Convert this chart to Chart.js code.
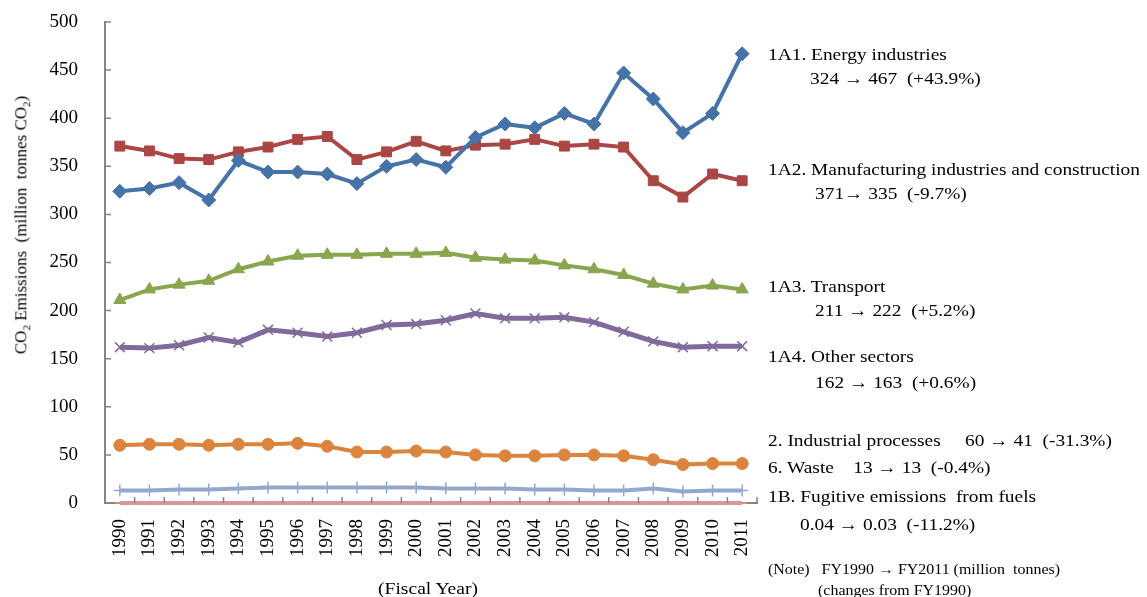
<!DOCTYPE html>
<html lang="en">
<head>
  <meta charset="UTF-8">
  <title>CO2 Emissions by Sector</title>
  <script src="https://cdn.jsdelivr.net/npm/chart.js"></script>
  <style>
    body {
      margin: 0;
      padding: 0;
      background: #fff;
      font-family: 'Liberation Serif', 'DejaVu Serif', serif;
      color: #000;
    }

    .wrap {
      position: relative;
      width: 1147px;
      height: 597px;
      overflow: hidden;
    }

    .note {
      position: absolute;
      white-space: pre;
      font-size: 17px;
      line-height: 1;
      transform: scaleX(1.14);
      transform-origin: left center;
    }

    .small {
      font-size: 14px;
    }

    .ytitle {
      position: absolute;
      left: 22px;
      top: 225px;
      transform: translate(-50%, -50%) rotate(-90deg);
      white-space: pre;
      font-size: 17px;
    }

    .xtitle {
      position: absolute;
      left: 428px;
      top: 589px;
      transform: translate(-50%, -50%) scaleX(1.15);
      font-size: 17px;
    }
  </style>
</head>
<body>
  <div class="wrap">
    <canvas id="chart" width="1147" height="597"></canvas>

    <div class="ytitle">CO<sub style="font-size:11px">2</sub> Emissions  (million  tonnes CO<sub style="font-size:11px">2</sub>)</div>
    <div class="xtitle">(Fiscal Year)</div>

    <div class="note" style="left:768px; top:46px;">1A1. Energy industries</div>
    <div class="note" style="left:810px; top:70px;">324 → 467  (+43.9%)</div>
    <div class="note" style="left:768px; top:161px;">1A2. Manufacturing industries and construction</div>
    <div class="note" style="left:815px; top:185px;">371→ 335  (-9.7%)</div>
    <div class="note" style="left:768px; top:278px;">1A3. Transport</div>
    <div class="note" style="left:815px; top:302px;">211 → 222  (+5.2%)</div>
    <div class="note" style="left:768px; top:348px;">1A4. Other sectors</div>
    <div class="note" style="left:815px; top:374px;">162 → 163  (+0.6%)</div>
    <div class="note" style="left:768px; top:432px;">2. Industrial processes     60 → 41  (-31.3%)</div>
    <div class="note" style="left:768px; top:459px;">6. Waste    13 → 13  (-0.4%)</div>
    <div class="note" style="left:768px; top:488px;">1B. Fugitive emissions  from fuels</div>
    <div class="note" style="left:800px; top:516px;">0.04 → 0.03  (-11.2%)</div>
    <div class="note small" style="left:768px; top:563px;">(Note)   FY1990 → FY2011 (million  tonnes)</div>
    <div class="note small" style="left:818px; top:584px;">(changes from FY1990)</div>
  </div>

  <script>
    // fiscal years
    const years = ['1990', '1991', '1992', '1993', '1994', '1995', '1996', '1997', '1998', '1999', '2000',
                   '2001', '2002', '2003', '2004', '2005', '2006', '2007', '2008', '2009', '2010', '2011'];

    // million tonnes CO2
    const energy = [324, 327, 333, 315, 356, 344, 344, 342, 332, 350, 357, 349, 380, 394, 390, 405, 394, 447, 420, 385, 405, 467];
    const manufacturing = [371, 366, 358, 357, 365, 370, 378, 381, 357, 365, 376, 366, 372, 373, 378, 371, 373, 370, 335, 318, 342, 335];
    const transport = [211, 222, 227, 231, 243, 251, 257, 258, 258, 259, 259, 260, 255, 253, 252, 247, 243, 237, 228, 222, 226, 222];
    const otherSectors = [162, 161, 164, 172, 167, 180, 177, 173, 177, 185, 186, 190, 197, 192, 192, 193, 188, 178, 168, 162, 163, 163];
    const industrial = [60, 61, 61, 60, 61, 61, 62, 59, 53, 53, 54, 53, 50, 49, 49, 50, 50, 49, 45, 40, 41, 41];
    const waste = [13, 13, 14, 14, 15, 16, 16, 16, 16, 16, 16, 15, 15, 15, 14, 14, 13, 13, 15, 12, 13, 13];
    const fugitive = [0.04, 0.04, 0.04, 0.04, 0.04, 0.04, 0.04, 0.04, 0.04, 0.04, 0.04, 0.04, 0.04, 0.04, 0.04, 0.04, 0.04, 0.04, 0.04, 0.03, 0.03, 0.03];

    const yTicks = [0, 50, 100, 150, 200, 250, 300, 350, 400, 450, 500];

    function series(label, data, color, style, radius, width) {
      return {
        label: label,
        data: data,
        borderColor: color,
        backgroundColor: color,
        borderWidth: width,
        pointStyle: style,
        pointRadius: radius,
        pointHoverRadius: radius,
        pointBorderWidth: style === 'crossRot' || style === 'cross' || style === 'line' ? 1.5 : 1,
        tension: 0,
        clip: false
      };
    }

    // small tick marks drawn inside the plot, like the original
    const innerTicks = {
      id: 'innerTicks',
      afterDraw(chart) {
        const ctx = chart.ctx;
        const x = chart.scales.x;
        const y = chart.scales.y;
        ctx.save();
        ctx.strokeStyle = '#868686';
        ctx.lineWidth = 1.5;
        ctx.beginPath();
        yTicks.forEach(v => {
          const py = y.getPixelForValue(v);
          ctx.moveTo(x.left, py);
          ctx.lineTo(x.left + 6, py);
        });
        const step = (x.right - x.left) / years.length;
        for (let i = 1; i <= years.length; i++) {
          const px = x.left + i * step;
          ctx.moveTo(px, y.bottom);
          ctx.lineTo(px, y.bottom - 6);
        }
        ctx.stroke();
        ctx.restore();
      }
    };

    new Chart(document.getElementById('chart'), {
      type: 'line',
      data: {
        labels: years,
        datasets: [
          series('1A1. Energy industries', energy, '#4572A7', 'rectRot', 7, 4),
          series('1A2. Manufacturing industries and construction', manufacturing, '#AA4643', 'rect', 7, 4),
          series('1A3. Transport', transport, '#89A54E', 'triangle', 7, 4),
          series('1A4. Other sectors', otherSectors, '#80699B', 'crossRot', 7, 5),
          series('2. Industrial processes', industrial, '#DB843D', 'circle', 6, 4),
          series('6. Waste', waste, '#92A8CD', 'cross', 6, 4),
          series('1B. Fugitive emissions from fuels', fugitive, '#D99694', 'line', 5, 4)
        ]
      },
      options: {
        responsive: false,
        animation: false,
        layout: { padding: { top: 22, right: 390, left: 0, bottom: 0 } },
        plugins: {
          legend: { display: false },
          tooltip: { enabled: false }
        },
        scales: {
          x: {
            offset: true,
            grid: { display: false },
            border: { color: '#868686', width: 2 },
            ticks: {
              color: '#000',
              minRotation: 90,
              maxRotation: 90,
              padding: 8,
              font: { family: 'Liberation Serif', size: 19 }
            },
            afterFit(scale) {
              scale.height = 94;
              scale.paddingLeft = 0;
              scale.paddingRight = 0;
            }
          },
          y: {
            min: 0,
            max: 500,
            afterBuildTicks(scale) { scale.ticks = yTicks.map(v => ({ value: v })); },
            grid: { display: false },
            border: { color: '#868686', width: 2 },
            ticks: {
              color: '#000',
              padding: 19,
              font: { family: 'Liberation Serif', size: 19 }
            },
            afterFit(scale) {
              scale.width = 105;
              scale.paddingTop = 0;
              scale.paddingBottom = 0;
            }
          }
        }
      },
      plugins: [innerTicks]
    });
  </script>
</body>
</html>
